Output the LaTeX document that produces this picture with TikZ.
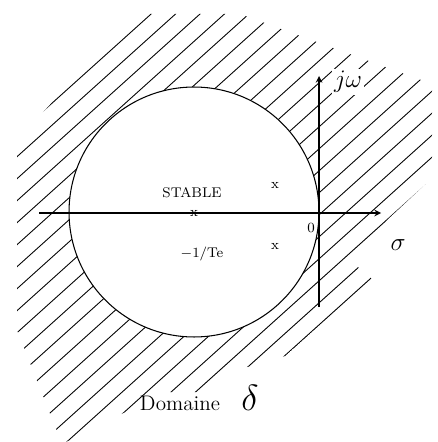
\documentclass[tikz,border=0pt]{standalone}
\usepackage{amsmath}
\begin{document}
\begin{tikzpicture}[x=0.02cm,y=-0.02cm,
	hatch/.style={black, line width=0.5pt},
	axe/.style={black, line width=0.7pt, -stealth},
	lbl/.style={font=\footnotesize, inner sep=1pt}]
	\useasboundingbox (0,0) rectangle (438,442);
	\begin{scope}
		\clip (17,140) -- (135,14) -- (240,14) -- (432,84) -- (432,178) -- (387,220) -- (352,262) -- (372,279) -- (285,356) -- (230,372) -- (205,392) -- (165,392) -- (62,444) -- (17,330) -- cycle;
		\foreach \c in {150,172,...,900}
			\draw[hatch] (0,\c) -- (500,\c-450);
	\end{scope}
	\coordinate (centre) at (194,212);
	\draw[black, line width=0.6pt, fill=white] (centre) circle (2.5cm);
	\coordinate (O) at (319,213);
	\coordinate (xg) at (39,213);
	\coordinate (xd) at (381,213);
	\coordinate (yb) at (319,307);
	\coordinate (yh) at (319,76);
	\draw[axe] (xg) -- (xd);
	\draw[axe] (yb) -- (yh);
	\node[lbl] (stable) at (192,193) {STABLE};
	\node[lbl] (poleA) at (194,213) {x};
	\node[lbl] (poleB) at (275,185) {x};
	\node[lbl] (poleC) at (275,246) {x};
	\node[lbl] (te) at (202,254) {$-$1/Te};
	\node[lbl] (zero) at (311,228) {0};
	\node (sigma) at (398,245) {\Large$\sigma$};
	\node[fill=white, inner sep=1pt] (jw) at (348,82) {\Large$j\omega$};
	\node (dom) at (180,403) {\large Domaine};
	\node (delta) at (250,398) {\huge$\delta$};
\end{tikzpicture}
\end{document}
